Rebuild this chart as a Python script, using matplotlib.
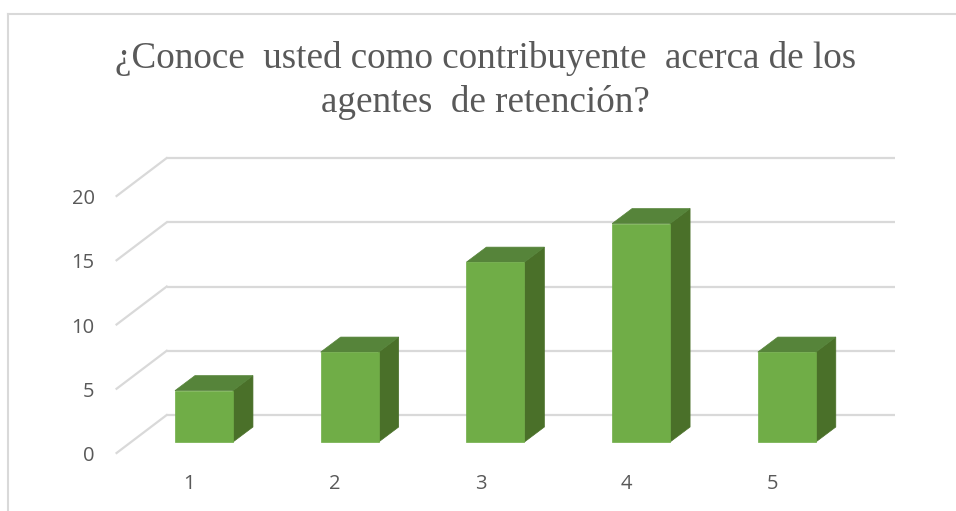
import matplotlib
matplotlib.use("Agg")
import matplotlib.pyplot as plt
from matplotlib.patches import Polygon, Rectangle
from matplotlib.lines import Line2D

# chart data
categories = ['1', '2', '3', '4', '5']
values = [4, 7, 14, 17, 7]
y_ticks = [0, 5, 10, 15, 20]
title = '¿Conoce  usted como contribuyente  acerca de los\nagentes  de retención?'

# colours
front_col = '#70ad47'
side_col = '#4a7029'
top_col = '#56843a'
grid_col = '#d9d9d9'
text_col = '#595959'

# pseudo 3D geometry (in data units)
half_w = 0.199
depth_dx, depth_dy = 0.137, 1.167      # bar depth
back_dx, back_dy = 0.244, 2.10         # bar front plane -> back wall
front_dx, front_dy = -0.10, -0.856     # bar front plane -> floor front edge

fig = plt.figure(figsize=(9.56, 5.11), dpi=100)
ax = fig.add_axes([0, 0, 1, 1])
ax.set_xlim(-0.4, 6.161)
ax.set_ylim(-5.37, 34.40)
ax.axis('off')

# gridlines on back wall + left side diagonals
x0, x1 = 0.5, 5.5
for v in y_ticks:
    ax.plot([x0 + back_dx, x1 + back_dx], [v + back_dy, v + back_dy],
            color=grid_col, lw=1.6, zorder=1, solid_capstyle='butt')
    ax.plot([x0 + front_dx, x0 + back_dx], [v + front_dy, v + back_dy],
            color=grid_col, lw=1.6, zorder=1)
    ax.text(x0 + front_dx - 0.15, v + front_dy - 0.25, str(v), ha='right', va='center',
            fontsize=14.5, color=text_col, family='Open Sans')

# bars
for i, (cat, v) in enumerate(zip(categories, values), start=1):
    xl, xr = i - half_w, i + half_w
    ax.add_patch(Polygon([(xr, 0), (xr + depth_dx, depth_dy), (xr + depth_dx, v + depth_dy), (xr, v)],
                         closed=True, facecolor=side_col, edgecolor=side_col, lw=0.5, zorder=3))
    ax.add_patch(Polygon([(xl, v), (xr, v), (xr + depth_dx, v + depth_dy), (xl + depth_dx, v + depth_dy)],
                         closed=True, facecolor=top_col, edgecolor=top_col, lw=0.5, zorder=3))
    ax.add_patch(Rectangle((xl, 0), 2 * half_w, v, facecolor=front_col,
                           edgecolor=front_col, lw=0.5, zorder=4))
    ax.text(i + front_dx, -3.25, cat, ha='center', va='center',
            fontsize=14.5, color=text_col, family='Open Sans')

# title
fig.text(0.508, 0.920, title, ha='center', va='top', fontsize=26.7,
         color=text_col, family='Liberation Serif', linespacing=1.32)

# chart border (partially visible)
fig.add_artist(Line2D([8 / 956, 1], [1 - 14 / 511, 1 - 14 / 511], color=grid_col, lw=1.5))
fig.add_artist(Line2D([8 / 956, 8 / 956], [0, 1 - 14 / 511], color=grid_col, lw=1.5))

fig.savefig('out.png', dpi=100)
